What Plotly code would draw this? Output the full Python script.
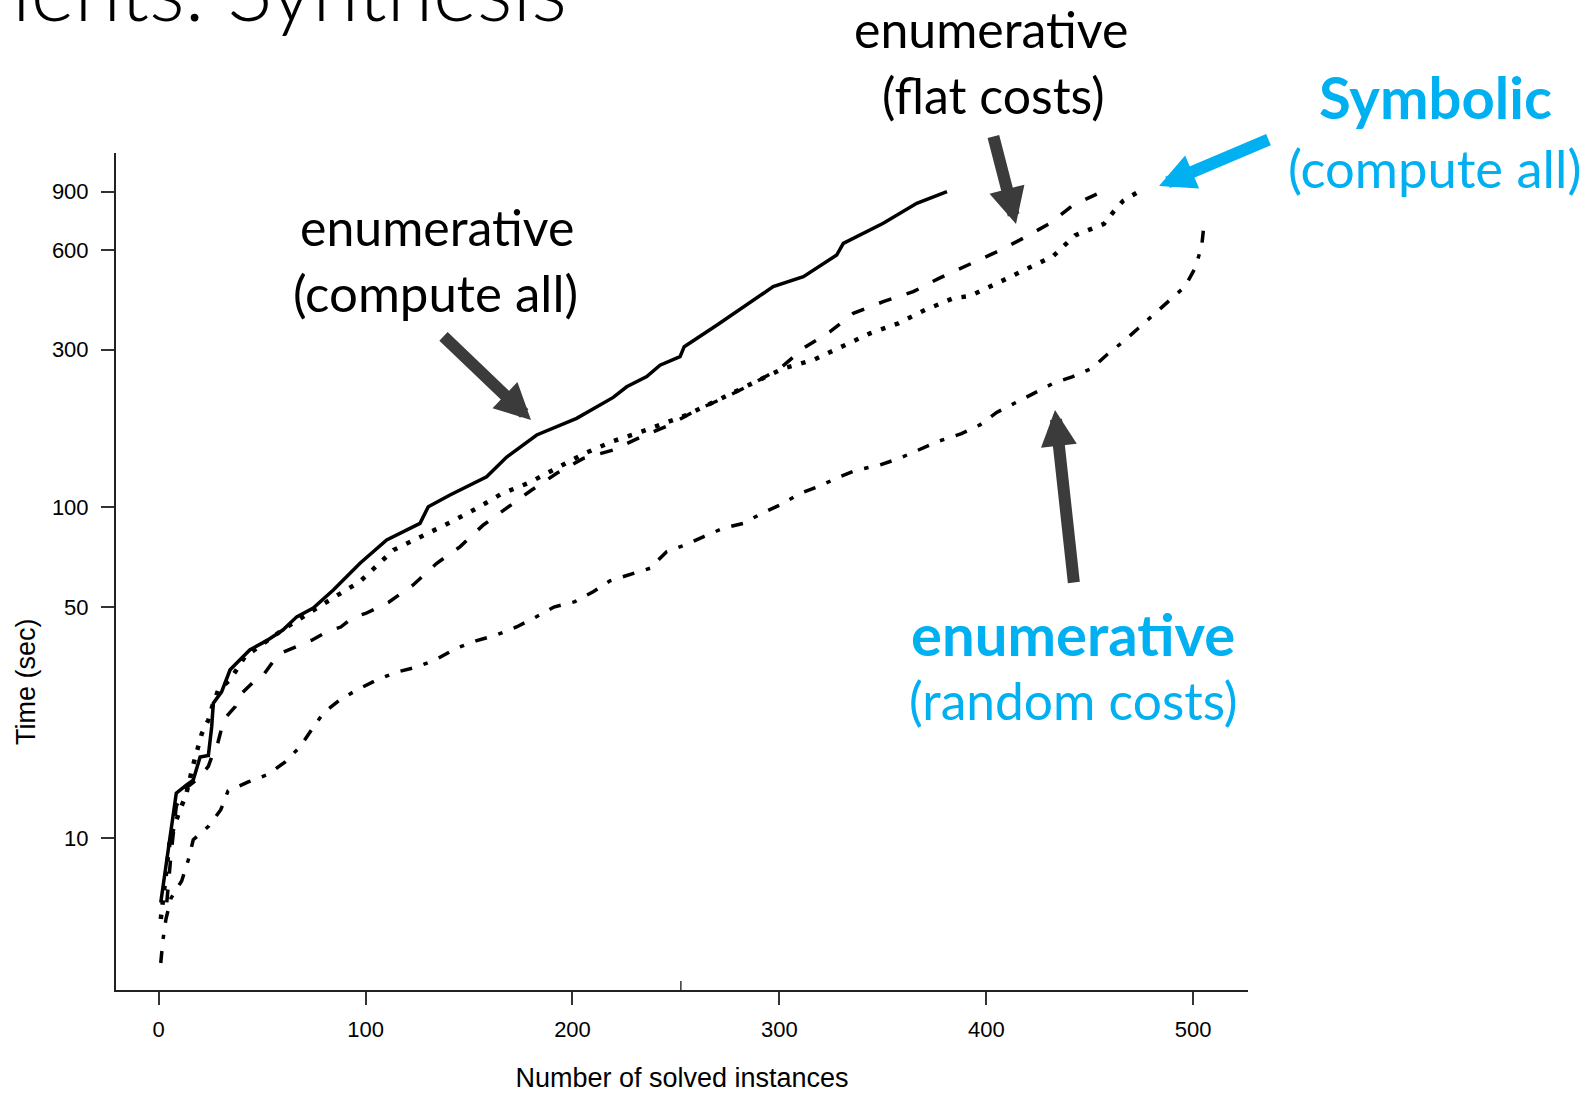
import plotly.graph_objects as go

# ---- cactus-plot data: instances solved (x) vs. time needed (sec, y) ----
enum_all_x = [1, 3, 5.5, 7, 8.5, 13.5, 16.7, 20, 24, 25.6, 26.4, 30.4, 34.5, 40, 44, 52,
              60, 66.7, 74.7, 84.4, 89.2, 97.3, 110.2, 126.3, 130.3, 140.8, 158.5, 168.2,
              182.7, 202, 219.7, 226.2, 235.9, 242.3, 252, 254, 269.7, 297, 311.6, 327.7,
              330.9, 350.2, 366.4, 379.2, 381]
enum_all_t = [6.4, 7.8, 9.9, 11.4, 13.7, 14.5, 15, 17.6, 17.8, 21.7, 25.6, 27.7, 32.3, 35,
              37.1, 39.5, 42.6, 46.7, 49.6, 56.3, 60.3, 67.8, 79.7, 89.5, 100.5, 109, 123.8,
              142, 165.5, 185.8, 215, 231.5, 248.5, 269, 285.5, 306, 355, 464.6, 498, 579,
              628, 722, 830, 890, 900]

enum_flat_x = [3.9, 6, 8.5, 12, 17, 20.4, 24, 25.6, 28, 30.4, 32.4, 37, 39, 46.5, 51, 55,
               60, 67, 74, 81, 88, 94, 100, 111, 123, 134.4, 145.6, 156.9, 168.2, 180.3,
               192.4, 205.2, 219.7, 233.4, 247.1, 260, 274.5, 287.4, 300.3, 311.6, 324.5,
               335.7, 350.2, 364.7, 377.6, 390.5, 404.2, 417.9, 430.8, 442, 453.4]
enum_flat_t = [6.4, 9, 12.5, 14, 14.8, 15.5, 16.5, 17.6, 18.8, 21.5, 23.2, 25, 27, 30, 31.4,
               34, 36.5, 38, 39.7, 42, 43.5, 46.6, 47.8, 51.6, 58.3, 67.8, 76, 88.5, 99.4,
               112.9, 126.8, 140.6, 149.1, 163.6, 177.5, 197, 216, 237, 263, 302.7, 339.7,
               386, 418.6, 448.7, 494, 538, 588.5, 650.8, 722, 820, 885]

symbolic_x = [1, 4.6, 5.5, 10.3, 13.2, 16.7, 18.8, 20.8, 24, 26.1, 28.8, 34.5, 41.7, 60.2,
              85.2, 97.3, 113.4, 127.1, 140, 152.9, 165.8, 179.1, 192.4, 205.2, 219, 233.4,
              255.2, 270.5, 275.3, 301.9, 316.4, 330.1, 343.8, 357.5, 370.4, 384, 392.1,
              405.8, 419.2, 432.4, 442.9, 456.9, 461.4, 466.2, 472.9, 476]
symbolic_t = [5.7, 8.9, 10, 12.2, 13.5, 16.7, 18.6, 20.7, 22.8, 25.3, 28.1, 30.1, 35.4, 42.8,
              53.7, 59.7, 74.3, 81.5, 89.5, 98.7, 110, 118.8, 131.3, 145, 158, 169.4, 190.2,
              211, 218.7, 263, 279, 306, 335.7, 360, 395, 428.5, 435.5, 477.6, 526.5, 575,
              664, 719, 781, 845, 894, 900]

enum_rand_x = [1, 2, 3.5, 6, 11.1, 14.3, 16.7, 24.3, 30, 33.5, 43.3, 52.8, 61, 68.3, 74.4,
               79.6, 87.6, 95.8, 105.4, 115, 124.7, 134.4, 143.7, 153.3, 163.4, 173.2, 181.9,
               191, 201.2, 210, 218.1, 227, 237.5, 245.5, 254.4, 263.2, 272.9, 282.6, 291.4,
               300.3, 310, 318.8, 329.3, 337.4, 348.6, 358.3, 368, 377, 388, 396.9, 405,
               413.9, 422.7, 432.4, 441.8, 451, 458.7, 466.2, 473.5, 480.7, 488.8, 496,
               500.9, 504.1, 505.2]
enum_rand_t = [4.2, 4.9, 5.7, 6.6, 7.43, 8.6, 9.9, 10.9, 12.2, 13.9, 14.8, 15.6, 17, 18.9,
               21.5, 23.9, 26.2, 28.1, 30.1, 31.8, 32.9, 34.8, 37.5, 39.5, 41.2, 43.6, 46.5,
               50, 51.9, 55.6, 60, 62.5, 65.5, 73.5, 77, 81.5, 86.5, 89.5, 95.9, 101.7, 110.3,
               115.5, 123.9, 129.7, 134.3, 141, 149.5, 158.5, 167, 177.5, 193.6, 206.4, 221.3,
               237.2, 248.4, 263, 290.8, 316.8, 347.8, 381.4, 420.6, 464.6, 528, 614, 713.5]

y_ticks = [10, 50, 100, 300, 600, 900]
x_ticks = [0, 100, 200, 300, 400, 500]

# ---- page geometry (pixels) ----
W, H = 1593, 1093
PL, PR, PT, PB = 116, 1248, 153, 990          # plot-area edges


def paper(px, py):
    """Convert page pixels to paper coordinates of the plot area."""
    return (px - PL) / (PR - PL), (PB - py) / (PB - PT)


BLUE = "#00B0F0"
ARROW = "#3B3B3B"
SLIDE_FONT = "Lato"
AXIS_FONT = "Liberation Sans"

fig = go.Figure()

series = [
    (enum_all_x, enum_all_t, "solid", 3.5),
    (enum_flat_x, enum_flat_t, "13px,16px", 3.5),
    (symbolic_x, symbolic_t, "4.5px,10px", 4.5),
    (enum_rand_x, enum_rand_t, "12px,12px,4.5px,12px", 3.5),
]
for xs, ts, dash, w in series:
    fig.add_trace(go.Scatter(x=xs, y=ts, mode="lines",
                             line=dict(color="black", width=w, dash=dash),
                             showlegend=False, hoverinfo="skip"))

fig.update_xaxes(
    range=[-20.64, 526.5], tickvals=x_ticks, ticktext=[str(v) for v in x_ticks],
    showline=True, linecolor="#222", linewidth=2, showgrid=False, zeroline=False,
    ticks="outside", ticklen=13, tickwidth=1.5, tickcolor="#333", ticklabelstandoff=6,
    tickfont=dict(family=AXIS_FONT, size=22, color="black"),
    title=dict(text="Number of solved instances", standoff=34,
               font=dict(family=AXIS_FONT, size=27, color="black")),
)
fig.update_yaxes(
    type="log", range=[0.5416, 3.071], tickvals=y_ticks, ticktext=[str(v) for v in y_ticks],
    showline=True, linecolor="#222", linewidth=2, showgrid=False, zeroline=False,
    ticks="outside", ticklen=13, tickwidth=1.5, tickcolor="#333", ticklabelstandoff=8,
    tickfont=dict(family=AXIS_FONT, size=22, color="black"),
)

# y-axis title, set low beside the axis
tx_, ty_ = paper(26, 682)
fig.add_annotation(x=tx_, y=ty_, xref="paper", yref="paper", text="Time (sec)",
                   textangle=-90, showarrow=False, xanchor="center", yanchor="middle",
                   font=dict(family=AXIS_FONT, size=27, color="black"))

# small centre mark on the x axis
fig.add_shape(type="line", xref="paper", yref="paper", x0=0.499, x1=0.499,
              y0=0, y1=9 / (PB - PT), line=dict(color="#333", width=1.5))

# callout labels: (centre px, centre py, text, size, bold, colour)
labels = [
    (437, 227, "enumerative", 50, False, "black"),
    (435, 292, "(compute all)", 51, False, "black"),
    (991, 29, "enumerative", 50, False, "black"),
    (993, 95, "(flat costs)", 50, False, "black"),
    (1435, 97, "Symbolic", 58, True, BLUE),
    (1434, 168, "(compute all)", 52.5, False, BLUE),
    (1073, 633, "enumerative", 58, True, BLUE),
    (1073, 700, "(random costs)", 51.5, False, BLUE),
]
for cx, cy, text, size, bold, color in labels:
    px_, py_ = paper(cx, cy)
    fig.add_annotation(x=px_, y=py_, xref="paper", yref="paper", text=text,
                       showarrow=False, xanchor="center", yanchor="middle",
                       font=dict(family=SLIDE_FONT, size=size, color=color,
                                 weight=700 if bold else 400))

# block arrows: (tail px, tail py, tip px, tip py, colour)
arrows = [
    (442, 335, 531, 420, ARROW),
    (993, 135, 1016, 224, ARROW),
    (1270, 139, 1159, 186, BLUE),
    (1074, 584, 1055, 410, ARROW),
]
for tx, ty, hx, hy, color in arrows:
    ax_, ay_ = paper(hx, hy)
    fig.add_annotation(x=ax_, y=ay_, xref="paper", yref="paper", text="",
                       showarrow=True, ax=tx - hx, ay=ty - hy,
                       arrowhead=2, arrowsize=0.6, arrowwidth=12, arrowcolor=color,
                       standoff=0)

# slide heading, partly cut by the top edge
hx_, hy_ = paper(10, -12)
fig.add_annotation(x=hx_, y=hy_, xref="paper", yref="paper", text="ients: Synthesis",
                   showarrow=False, xanchor="left", yanchor="middle",
                   font=dict(family=SLIDE_FONT, size=84, color="black", weight=300))

fig.update_layout(
    width=W, height=H,
    margin=dict(l=PL, r=W - PR, t=PT, b=H - PB, autoexpand=False),
    paper_bgcolor="white", plot_bgcolor="white",
)

fig.write_html("out.html")
